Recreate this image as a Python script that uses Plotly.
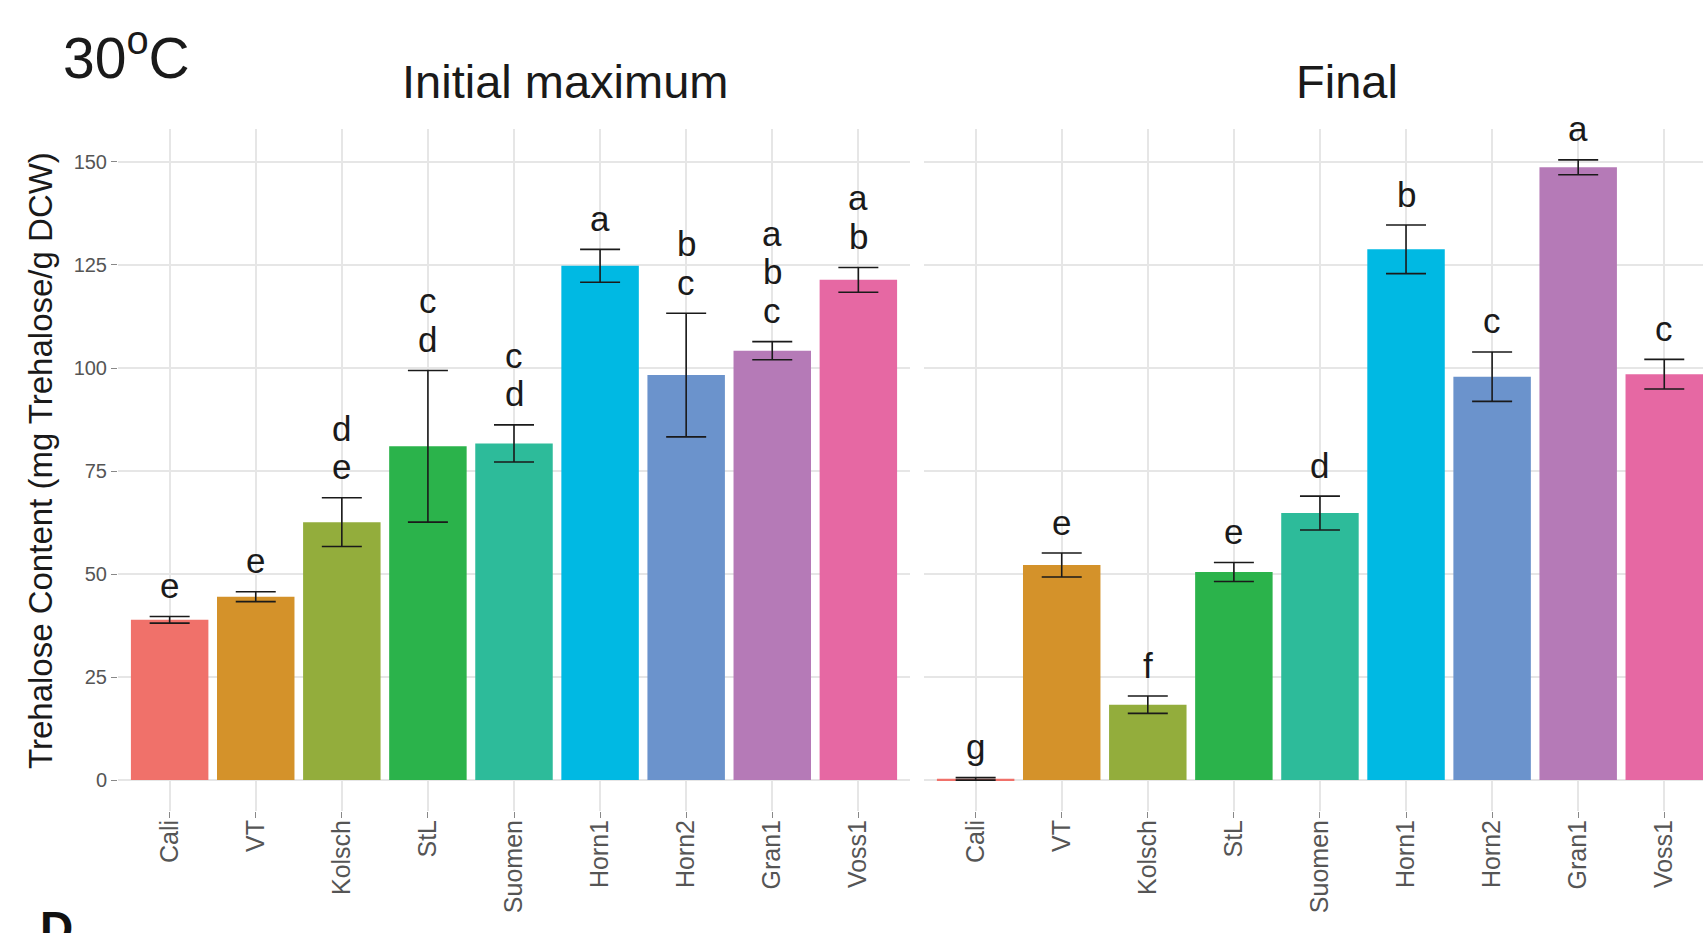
import plotly.graph_objects as go

# ---- data ----
strains = ["Cali", "VT", "Kolsch", "StL", "Suomen", "Horn1", "Horn2", "Gran1", "Voss1"]
colors = ["#F0716A", "#D4922A", "#93AD3C", "#2BB34B", "#2DBB9A",
          "#00B9E3", "#6B93CC", "#B57AB7", "#E668A3"]

initial_mean = [38.9, 44.5, 62.6, 81.0, 81.7, 124.8, 98.3, 104.2, 121.4]
initial_se = [0.8, 1.2, 5.9, 18.4, 4.5, 4.0, 15.0, 2.2, 3.0]
initial_letters = [["e"], ["e"], ["d", "e"], ["c", "d"], ["c", "d"], ["a"],
                   ["b", "c"], ["a", "b", "c"], ["a", "b"]]

final_mean = [0.3, 52.2, 18.3, 50.5, 64.8, 128.8, 97.9, 148.7, 98.5]
final_se = [0.3, 2.9, 2.1, 2.3, 4.1, 5.9, 6.0, 1.8, 3.6]
final_letters = [["g"], ["e"], ["f"], ["e"], ["d"], ["b"], ["c"], ["a"], ["c"]]

y_ticks = [0, 25, 50, 75, 100, 125, 150]

W, H = 1703, 933
FONT = "Liberation Sans, Arial, Helvetica, sans-serif"

fig = go.Figure()
for xa, means, ses in (("x", initial_mean, initial_se), ("x2", final_mean, final_se)):
    fig.add_trace(go.Bar(
        x=strains, y=means, xaxis=xa, yaxis="y",
        marker=dict(color=colors, line=dict(width=0)),
        error_y=dict(type="data", array=ses, visible=True,
                     color="#1a1a1a", thickness=1.6, width=20),
        showlegend=False,
    ))

# letters sit above the top of each error bar (anchored at the error-bar top)
annotations = []
LETTER_OFF_PX = 31
LETTER_STEP_PX = 38.7
for xref, means, ses, letters in (("x", initial_mean, initial_se, initial_letters),
                                  ("x2", final_mean, final_se, final_letters)):
    for s, m, e, lets in zip(strains, means, ses, letters):
        n = len(lets)
        for i, L in enumerate(lets):
            annotations.append(dict(
                x=s, y=m + e, xref=xref, yref="y", text=L, showarrow=False,
                xanchor="center", yanchor="middle",
                yshift=LETTER_OFF_PX + (n - 1 - i) * LETTER_STEP_PX,
                font=dict(family=FONT, size=35, color="#1a1a1a")))


def px_x(p):
    return p / W


def px_y(p):
    return (H - p) / H


annotations += [
    dict(text="30<sup>o</sup>C", x=px_x(61), y=px_y(54), xref="paper", yref="paper",
         xanchor="left", yanchor="middle", showarrow=False,
         font=dict(family=FONT, size=57, color="#1a1a1a")),
    dict(text="Initial maximum", x=px_x(565), y=px_y(81), xref="paper", yref="paper",
         xanchor="center", yanchor="middle", showarrow=False,
         font=dict(family=FONT, size=47, color="#1a1a1a")),
    dict(text="Final", x=px_x(1347), y=px_y(81), xref="paper", yref="paper",
         xanchor="center", yanchor="middle", showarrow=False,
         font=dict(family=FONT, size=47, color="#1a1a1a")),
    dict(text="Trehalose Content (mg Trehalose/g DCW)", x=px_x(40), y=px_y(461),
         xref="paper", yref="paper", textangle=-90, xanchor="center", yanchor="middle",
         showarrow=False, font=dict(family=FONT, size=33, color="#1a1a1a")),
    dict(text="<b>D</b>", x=px_x(38), y=px_y(900), xref="paper", yref="paper",
         xanchor="left", yanchor="top", showarrow=False,
         font=dict(family=FONT, size=46, color="#111")),
]

grid = "#E6E6E6"
ytickfont = dict(family=FONT, size=20, color="#555555")
xtickfont = dict(family=FONT, size=25, color="#555555")
y0, y1 = px_y(811), px_y(129)

xaxis_common = dict(type="category", tickangle=-90, ticks="outside", ticklen=6,
                    tickcolor="#888", tickfont=xtickfont, showgrid=True,
                    gridcolor=grid, gridwidth=1.5, showline=False, zeroline=False,
                    anchor="y", fixedrange=True, ticklabelstandoff=-8)

fig.update_layout(
    width=W, height=H,
    margin=dict(l=0, r=0, t=0, b=0),
    paper_bgcolor="white", plot_bgcolor="white",
    bargap=0.1, showlegend=False,
    annotations=annotations,
    xaxis=dict(domain=[px_x(118), px_x(910)], range=[-0.6, 8.6], **xaxis_common),
    xaxis2=dict(domain=[px_x(924), 1.0], range=[-0.6, 8.45], **xaxis_common),
    yaxis=dict(domain=[y0, y1], range=[-7.5, 158], tickvals=y_ticks,
               ticks="outside", ticklen=6, tickcolor="#888", tickfont=ytickfont,
               showgrid=True, gridcolor=grid, gridwidth=1.5, zeroline=False,
               showline=False, anchor="x", fixedrange=True),
)

fig.write_html(
    "out.html",
    config={"displayModeBar": False},
    post_script="document.body.style.margin='0';document.body.style.overflow='hidden';",
)
